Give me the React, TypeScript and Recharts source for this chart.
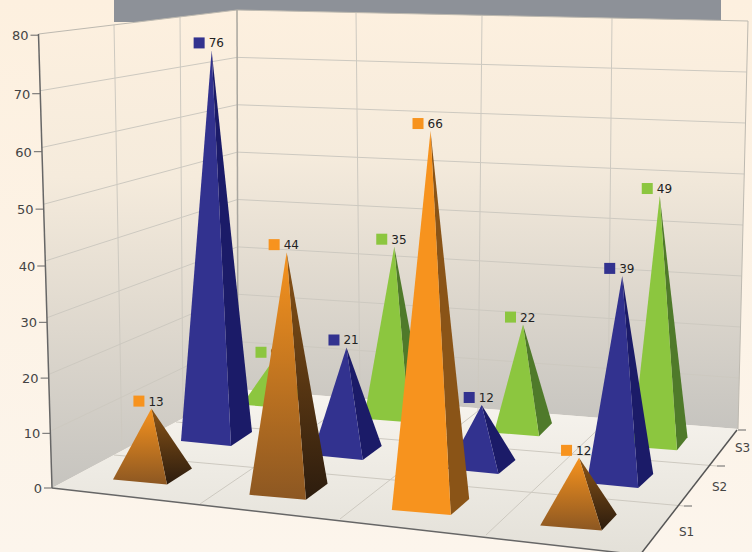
import { Bar, ComposedChart, Customized, XAxis, YAxis } from "recharts";

const WIDTH = 752;
const HEIGHT = 552;

// values, one array per depth row
const categories = ["C1", "C2", "C3", "C4"];
const depthLabels = ["S1", "S2", "S3"];
const s1Values = [13, 44, 66, 12];
const s2Values = [76, 21, 12, 39];
const s3Values = [9, 35, 22, 49];
const yTicks = [0, 10, 20, 30, 40, 50, 60, 70, 80];
const flatS1Categories = ["C3"];

// rough perspective of the floor, per depth row (front to back)
const depths = [
  { x0: 153, xa: 133, xb: 3, y0: 474, yc: 15.3, k0: 4.9, ke: 0.01, kc: 0.05, fx: 54, fxc: 2.5, fy: 5, sx: 25, sxc: 3.3, sy: -16, lean: 0.0003 },
  { x0: 217, xa: 128.5, xb: 2, y0: 436.5, yc: 14, k0: 4.7, ke: 0.005, kc: 0.1, fx: 50, fxc: 0.5, fy: 5, sx: 21, sxc: 2, sy: -14, lean: 0.0003 },
  { x0: 274, xa: 116.75, xb: 4, y0: 400, yc: 14, k0: 4.38, ke: 0.01, kc: 0.05, fx: 45, fxc: 0, fy: 3.5, sx: 18, sxc: 2.5, sy: -13, lean: 0 },
];
const colors = [
  { front: "#f7931e", side: "#8a5417", gradFront: "url(#orangeFront)", gradSide: "url(#orangeSide)" },
  { front: "#32328f", side: "#1b1b68" },
  { front: "#8cc63f", side: "#4f7a2a" },
];

const ZERO_Y = 488;
const PX_PER_UNIT = 5.66;
const yDomain = [(ZERO_Y - HEIGHT) / PX_PER_UNIT, ZERO_Y / PX_PER_UNIT];

const series = [s1Values, s2Values, s3Values];
// back row first so the front pyramids paint over it
const rows = [2, 1, 0].flatMap((s) =>
  categories.map((cat, c) => {
    const d = depths[s];
    const value = series[s][c];
    const baseY = d.y0 + d.yc * c;
    const lift = (ZERO_Y - baseY) / PX_PER_UNIT;
    const k = d.k0 + d.ke * value + d.kc * c;
    return {
      cat,
      c,
      s,
      value,
      px: d.x0 + d.xa * c + d.xb * c * c,
      range: [lift, lift + (value * k) / PX_PER_UNIT],
    };
  }),
);

function Pyramid(props: any) {
  const { x, y, width, height, payload } = props;
  const { c, s, value, cat } = payload;
  const d = depths[s];
  const cx = x + width / 2;
  const baseY = y + height;
  const fx = d.fx + d.fxc * c;
  const sx = d.sx - d.sxc * c;
  const fl = [cx - (fx + sx) / 2, baseY - (d.fy + d.sy) / 2];
  const fr = [fl[0] + fx, fl[1] + d.fy];
  const br = [fr[0] + sx, fr[1] + d.sy];
  const apex = [cx + (cx - 430) * d.lean * value, y];
  const col: any = colors[s];
  const useGrad = col.gradFront && !flatS1Categories.includes(cat);
  return (
    <g>
      <polygon points={`${fr} ${br} ${apex}`} fill={useGrad ? col.gradSide : col.side} />
      <polygon points={`${fl} ${fr} ${apex}`} fill={useGrad ? col.gradFront : col.front} />
      <rect x={apex[0] - 18} y={y - 13} width={11} height={11} fill={col.front} />
      <text x={apex[0] - 3} y={y - 3} fontSize={12} fontFamily="DejaVu Sans" fill="#222">
        {value}
      </text>
    </g>
  );
}

// slanted value axis, ticks bow a little because of the perspective
function ValueTick({ y, payload }: any) {
  const v = payload.value;
  const t = (v - 40) / 40;
  const ty = y + 4.4 * (1 - t * t);
  const ax = 52 - (13.5 * v) / 80;
  return (
    <g>
      <line x1={ax - 8} x2={ax} y1={ty} y2={ty} stroke="#666" strokeWidth={1} />
      <text x={ax - 10} y={ty + 5} textAnchor="end" fontSize={13} fontFamily="DejaVu Sans" fill="#444">
        {v}
      </text>
    </g>
  );
}

const lerp = (a: number[], b: number[], t: number) => [a[0] + (b[0] - a[0]) * t, a[1] + (b[1] - a[1]) * t];

function Room() {
  const grid = "#cdc9c0";
  const leftB = [52, 488];
  const leftT = [38.5, 34];
  const backB = [238, 389];
  const backT = [237, 10];
  const rightB = [738, 429];
  const rightT = [748, 21];
  const frontR = [640, 555];
  const frontL = leftB;
  const wallLevels = yTicks.slice(1, -1).map((v) => v / 80);
  const backCols = [
    [[356, 12], [360, 398]],
    [[482, 15], [478, 411]],
    [[612, 18], [608, 420]],
  ];
  const leftCols = [
    [[114, 25], [122, 450]],
    [[180, 17], [183, 418]],
  ];
  const floorCols = [
    [[200, 504], [356, 398]],
    [[340, 519], [478, 411]],
    [[486, 535], [608, 420]],
  ];
  const floorRows = [
    [lerp(leftB, backB, 1 / 3), [684, 506]],
    [lerp(leftB, backB, 2 / 3), [717, 466]],
  ];
  const seg = (p: number[][], i: number, w = 1) => (
    <line key={i} x1={p[0][0]} y1={p[0][1]} x2={p[1][0]} y2={p[1][1]} stroke={grid} strokeWidth={w} />
  );
  return (
    <g>
      <rect x={114} y={0} width={607} height={22} fill="#8d9198" />
      <polygon points={`${leftT} ${backT} ${backB} ${leftB}`} fill="url(#wall)" />
      <polygon points={`${backT} ${rightT} ${rightB} ${backB}`} fill="url(#wall)" />
      <polygon points={`${frontL} ${backB} ${rightB} ${frontR}`} fill="url(#floor)" />
      {wallLevels.map((t, i) => seg([lerp(leftB, leftT, t), lerp(backB, backT, t)], i))}
      {wallLevels.map((t, i) => seg([lerp(backB, backT, t), lerp(rightB, rightT, t)], i + 20))}
      {backCols.map((p, i) => seg(p, i + 40))}
      {leftCols.map((p, i) => seg(p, i + 50))}
      {floorCols.map((p, i) => seg(p, i + 60))}
      {floorRows.map((p, i) => seg(p, i + 70))}
      <polyline points={`${leftT} ${backT} ${rightT} ${rightB}`} fill="none" stroke="#bdb9b0" strokeWidth={1} />
      <line x1={237} y1={10} x2={238} y2={389} stroke="#a9a69f" strokeWidth={1.5} />
      <line x1={leftT[0]} y1={leftT[1]} x2={leftB[0]} y2={leftB[1]} stroke="#666" strokeWidth={1.5} />
      <line x1={frontL[0]} y1={frontL[1]} x2={frontR[0]} y2={frontR[1]} stroke="#666" strokeWidth={1.5} />
      <line x1={737} y1={430} x2={frontR[0]} y2={frontR[1]} stroke="#555" strokeWidth={1.5} />
      <line x1={684} y1={506} x2={692} y2={506} stroke="#666" />
      <line x1={717} y1={466} x2={725} y2={466} stroke="#666" />
      <line x1={738} y1={430} x2={746} y2={430} stroke="#666" />
      {depthLabels.map((label, i) => (
        <text
          key={label}
          x={[679, 712, 735][i]}
          y={[536, 491, 452][i]}
          fontSize={12}
          fontFamily="DejaVu Sans"
          fill="#444"
        >
          {label}
        </text>
      ))}
    </g>
  );
}

export default function App() {
  return (
    <div
      style={{
        position: "absolute",
        left: 0,
        top: 0,
        width: WIDTH,
        height: HEIGHT,
        overflow: "hidden",
        background: "linear-gradient(#fdf0df, #fcf5ec)",
      }}
    >
      <ComposedChart width={WIDTH} height={HEIGHT} data={rows} margin={{ top: 0, right: 0, bottom: 0, left: 0 }}>
        <defs>
          <linearGradient id="wall" x1="0" y1="0" x2="0" y2="1">
            <stop offset="0" stopColor="#fdf0df" />
            <stop offset="0.35" stopColor="#f5ebdc" />
            <stop offset="1" stopColor="#c6c4bf" />
          </linearGradient>
          <linearGradient id="floor" x1="0" y1="0" x2="0" y2="1">
            <stop offset="0" stopColor="#f8f5ef" />
            <stop offset="1" stopColor="#e3e0d8" />
          </linearGradient>
          <linearGradient id="orangeFront" x1="0" y1="0" x2="0" y2="1">
            <stop offset="0" stopColor="#f7931e" />
            <stop offset="1" stopColor="#8c5722" />
          </linearGradient>
          <linearGradient id="orangeSide" x1="0" y1="0" x2="0" y2="1">
            <stop offset="0" stopColor="#8a5417" />
            <stop offset="1" stopColor="#2c1c0e" />
          </linearGradient>
        </defs>
        <Customized component={Room} />
        <XAxis dataKey="px" type="number" domain={[1, WIDTH]} allowDataOverflow hide />
        <YAxis
          width={1}
          domain={yDomain}
          allowDataOverflow
          ticks={yTicks}
          interval={0}
          axisLine={false}
          tickLine={false}
          tick={<ValueTick />}
        />
        <Bar dataKey="range" barSize={10} shape={<Pyramid />} isAnimationActive={false} />
      </ComposedChart>
    </div>
  );
}
